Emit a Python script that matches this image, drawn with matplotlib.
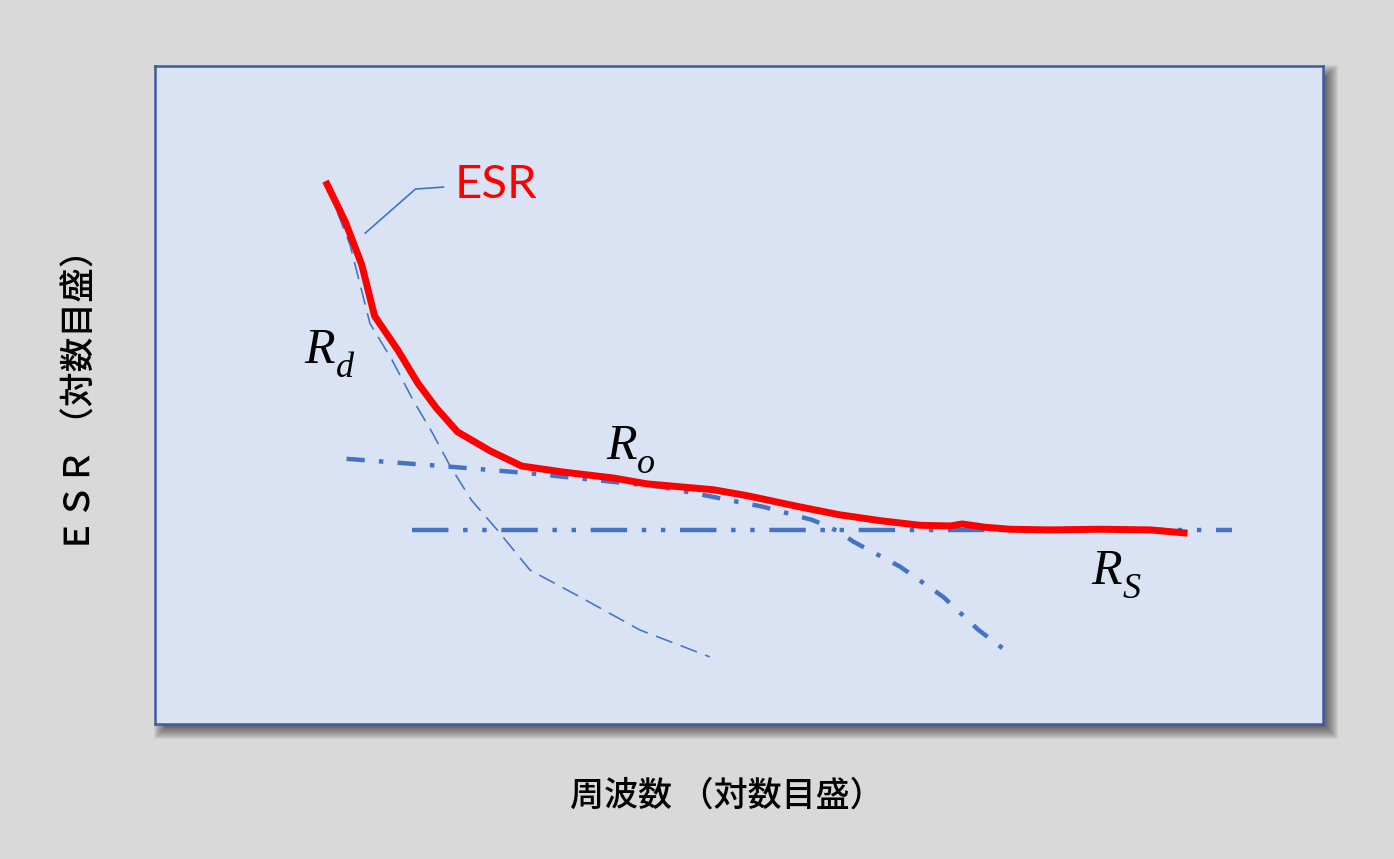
import matplotlib
matplotlib.use("Agg")
import matplotlib.pyplot as plt
from matplotlib.patches import Rectangle

# ---- data (schematic: log frequency 0-100, log ESR 0-100) ----
esr_x = [14.6, 16.3, 17.7, 18.8, 20.8, 22.5, 24.1, 25.9, 28.7, 31.4, 34.9, 39.2, 42.1,
         47.8, 50.7, 55.2, 58.6, 62.1, 65.5, 68.1, 69.1, 71.1, 73.2, 76.6, 80.9, 85.2, 88.4]
esr_y = [82.5, 76.3, 69.8, 62.0, 56.8, 51.8, 48.0, 44.4, 41.5, 39.2, 38.3, 37.4, 36.5,
         35.6, 34.7, 33.0, 31.8, 30.9, 30.2, 30.1, 30.4, 29.9, 29.6, 29.5, 29.6, 29.5, 29.0]

rd_x = [14.8, 16.7, 18.4, 20.3, 22.1, 23.7, 25.3, 27.1, 29.3, 32.1, 36.4, 41.5, 47.5]
rd_y = [81.5, 72.8, 60.9, 55.3, 49.2, 44.4, 39.1, 34.0, 29.5, 23.4, 19.3, 14.3, 10.2]

ro_x = [16.4, 25.3, 32.1, 39.2, 43.5, 47.8, 52.1, 56.3, 58.6, 59.8, 63.8, 67.5, 70.5, 73.1]
ro_y = [40.3, 39.1, 38.1, 36.8, 36.0, 34.5, 33.0, 31.0, 29.2, 27.7, 23.9, 19.3, 14.3, 10.8]

rs_x = [22.0, 92.2]
rs_y = [29.5, 29.5]

leader_x = [18.0, 22.3, 24.7]
leader_y = [74.6, 81.3, 81.6]

esr_label = ("ESR", 29.2, 81.9)
r_labels = [("d", 12.8, 54.9), ("o", 38.6, 40.3), ("S", 80.2, 21.3)]

xlabel = "周波数 （対数目盛）"
ylabel = "ＥＳＲ （対数目盛）"

# ---- figure ----
W, H = 1394, 859
fig = plt.figure(figsize=(W / 100, H / 100), dpi=100, facecolor='#d9d9d9')

L, R, T, B = 155, 1323, 66, 724
ax = fig.add_axes([L / W, 1 - B / H, (R - L) / W, (B - T) / H])
ax.set_facecolor('#dae3f3')
for s in ax.spines.values():
    s.set_color('#3a5da5')
    s.set_linewidth(1.8)
ax.set_xticks([])
ax.set_yticks([])
ax.set_xlim(0, 100)
ax.set_ylim(0, 100)

# soft drop shadow
off = 7
blur = 8
for i in range(2 * blur):
    e = blur - i
    x0 = L + off - e
    y0 = B + off + e
    w = (R - L) + 2 * e
    h = (B - T) + 2 * e
    rect = Rectangle((x0 / W, 1 - y0 / H), w / W, h / H, transform=fig.transFigure,
                     facecolor='black', edgecolor='none', alpha=0.05, zorder=-5)
    fig.add_artist(rect)

blue = '#4472c4'
ax.plot(rd_x, rd_y, color=blue, lw=1.15, linestyle=(0, (11, 5.5)))
ax.plot(ro_x, ro_y, color=blue, lw=3.2, linestyle=(0, (4.1, 3.2, 1, 3.2)))
ax.plot(rs_x, rs_y, color=blue, lw=3.2, linestyle=(0, (8.2, 3.3, 1, 3.3, 1, 3.3)))
ax.plot(esr_x, esr_y, color='#ff0000', lw=5, solid_capstyle='butt', solid_joinstyle='round')
ax.plot(leader_x, leader_y, color=blue, lw=1.2)

ax.text(esr_label[1], esr_label[2], esr_label[0], color='#ff0000', fontsize=34,
        family='Lato', ha='center', va='center')

for sub, x, y in r_labels:
    ax.text(x, y, "R", fontsize=36, family='Liberation Serif', style='italic',
            ha='left', va='baseline')
    ax.annotate(sub, xy=(x, y), xytext=(22.5, -10), textcoords='offset points',
                fontsize=26, family='Liberation Serif', style='italic',
                ha='left', va='baseline')

fam = ['Noto Sans CJK JP', 'DejaVu Sans']
fig.text(727 / W, 1 - 796 / H, xlabel, fontsize=24.5, family=fam, weight='medium',
         ha='center', va='center')
fig.text(81 / W, 1 - 393 / H, ylabel, fontsize=25, family=fam, weight='medium',
         ha='center', va='center', rotation=90)

fig.savefig('out.png', dpi=100, facecolor=fig.get_facecolor())
